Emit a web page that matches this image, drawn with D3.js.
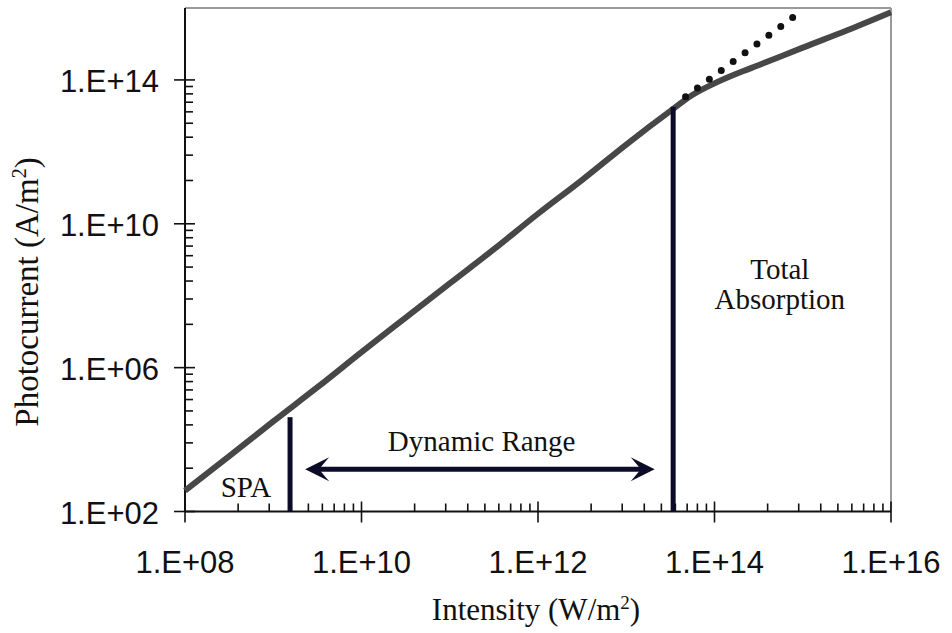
<!DOCTYPE html>
<html>
<head>
<meta charset="utf-8">
<script src="https://cdn.jsdelivr.net/npm/d3@7"></script>
<style>
  html, body { margin: 0; padding: 0; background: #fff; }
  .tick-label { font-family: "Liberation Sans", Arial, sans-serif; font-size: 31px; fill: #111; }
  .serif { font-family: "Liberation Serif", "Times New Roman", serif; fill: #111; }
</style>
</head>
<body>
<div id="visualization"></div>
<script>
const width = 952;
const height = 633;

const intensity = [1e8, 3.2e8, 1e9, 3.2e9, 1e10, 3.2e10, 1e11, 3.2e11, 1e12, 3.2e12, 1e13, 3.2e13, 5.6e13, 1e14, 1.8e14, 3.2e14, 1e15, 3.2e15, 1e16];
const photocurrent = [380, 3.5e3, 3.2e4, 2.9e5, 2.7e6, 2.5e7, 2.2e8, 2e9, 1.9e10, 1.7e11, 1.6e12, 1.4e13, 3.8e13, 8e13, 1.5e14, 2.6e14, 7.9e14, 2.4e15, 7.6e15];

// dotted extrapolation (slope 2) past saturation
const dottedIntensity = [4.7e13, 8.5e14];
const dottedCurrent = [3.4e13, 6.5e15];

// vertical markers: SPA limit and total absorption
const markerIntensity = [1.55e9, 3.4e13];
const markerTop = [4.2e4, 1.8e13];

// dynamic range arrow
const arrowIntensity = [2.3e9, 2.1e13];
const arrowCurrent = 1.5e3;

// axis ticks
const xMajor = [1e8, 1e10, 1e12, 1e14, 1e16];
const xLabels = ['1.E+08', '1.E+10', '1.E+12', '1.E+14', '1.E+16'];
const yMajor = [1e2, 1e6, 1e10, 1e14];
const yLabels = ['1.E+02', '1.E+06', '1.E+10', '1.E+14'];

// annotation text
const notes = [
    {text: 'SPA', x: 4.9e8, y: 260},
    {text: 'Dynamic Range', x: 2.3e11, y: 4.9e3},
    {text: 'Total', x: 5.5e14, y: 3.0e8},
    {text: 'Absorption', x: 5.5e14, y: 4.2e7}
];

const xScale = d3.scaleLog().domain([1e8, 1e16]).range([185, 891]);
const yScale = d3.scaleLog().domain([1e2, 1e16]).range([511.5, 8]);

const svg = d3.select('#visualization')
    .append('svg')
    .attr('width', width)
    .attr('height', height);

// frame (top and right in grey)
svg.append('line')
    .attr('x1', xScale(1e8)).attr('x2', xScale(1e16))
    .attr('y1', yScale(1e16)).attr('y2', yScale(1e16))
    .attr('stroke', '#9a9a9a').attr('stroke-width', 2);
svg.append('line')
    .attr('x1', xScale(1e16)).attr('x2', xScale(1e16))
    .attr('y1', yScale(1e16)).attr('y2', yScale(1e2))
    .attr('stroke', '#9a9a9a').attr('stroke-width', 2);

// minor ticks: Excel log axes with base 100 / 10000
const xMinor = [];
xMajor.slice(0, -1).forEach(m => d3.range(2, 10).forEach(k => xMinor.push(m * k * k)));
const yMinor = [];
yMajor.slice(0, -1).forEach(m => d3.range(2, 10).forEach(k => yMinor.push(m * k * k * k * k)));

const axisG = svg.append('g').attr('stroke', '#111').attr('stroke-width', 1.6);

axisG.append('line')
    .attr('x1', xScale(1e8)).attr('x2', xScale(1e16))
    .attr('y1', yScale(1e2)).attr('y2', yScale(1e2))
    .attr('stroke-width', 2);
axisG.append('line')
    .attr('x1', xScale(1e8)).attr('x2', xScale(1e8))
    .attr('y1', yScale(1e16)).attr('y2', yScale(1e2))
    .attr('stroke-width', 2);

axisG.selectAll('.xmajor')
    .data(xMajor)
    .enter().append('line')
    .attr('x1', d => xScale(d)).attr('x2', d => xScale(d))
    .attr('y1', yScale(1e2) - 10).attr('y2', yScale(1e2) + 11);
axisG.selectAll('.xminor')
    .data(xMinor)
    .enter().append('line')
    .attr('x1', d => xScale(d)).attr('x2', d => xScale(d))
    .attr('y1', yScale(1e2) - 8).attr('y2', yScale(1e2));
axisG.selectAll('.ymajor')
    .data(yMajor)
    .enter().append('line')
    .attr('x1', xScale(1e8) - 11).attr('x2', xScale(1e8) + 10)
    .attr('y1', d => yScale(d)).attr('y2', d => yScale(d));
axisG.selectAll('.yminor')
    .data(yMinor)
    .enter().append('line')
    .attr('x1', xScale(1e8)).attr('x2', xScale(1e8) + 8)
    .attr('y1', d => yScale(d)).attr('y2', d => yScale(d));

svg.selectAll('.xlab')
    .data(xMajor)
    .enter().append('text')
    .attr('class', 'tick-label')
    .attr('x', d => xScale(d))
    .attr('y', yScale(1e2) + 61)
    .attr('text-anchor', 'middle')
    .text((d, i) => xLabels[i]);

svg.selectAll('.ylab')
    .data(yMajor)
    .enter().append('text')
    .attr('class', 'tick-label')
    .attr('x', xScale(1e8) - 26)
    .attr('y', d => yScale(d) + 12)
    .attr('text-anchor', 'end')
    .text((d, i) => yLabels[i]);

// axis titles
const xTitle = svg.append('text')
    .attr('class', 'serif')
    .attr('x', 536)
    .attr('y', 620)
    .attr('text-anchor', 'middle')
    .attr('font-size', 31);
xTitle.append('tspan').text('Intensity (W/m');
xTitle.append('tspan').attr('font-size', 19).attr('dy', -11).text('2');
xTitle.append('tspan').attr('dy', 11).text(')');

const yTitle = svg.append('text')
    .attr('class', 'serif')
    .attr('transform', 'translate(38,292) rotate(-90)')
    .attr('text-anchor', 'middle')
    .attr('font-size', 33);
yTitle.append('tspan').text('Photocurrent (A/m');
yTitle.append('tspan').attr('font-size', 20).attr('dy', -12).text('2');
yTitle.append('tspan').attr('dy', 12).text(')');

// curve
const curve = intensity.map((d, i) => [d, photocurrent[i]]);
const line = d3.line()
    .x(d => xScale(d[0]))
    .y(d => yScale(d[1]))
    .curve(d3.curveMonotoneX);

svg.append('path')
    .datum(curve)
    .attr('d', line)
    .attr('fill', 'none')
    .attr('stroke', '#474747')
    .attr('stroke-width', 6)
    .attr('stroke-linejoin', 'round');

// dotted extrapolation
svg.append('path')
    .datum(dottedIntensity.map((d, i) => [d, dottedCurrent[i]]))
    .attr('d', d3.line().x(d => xScale(d[0])).y(d => yScale(d[1])))
    .attr('fill', 'none')
    .attr('stroke', '#111')
    .attr('stroke-width', 7)
    .attr('stroke-linecap', 'round')
    .attr('stroke-dasharray', '0,14.8');

// vertical markers
svg.selectAll('.marker')
    .data(markerIntensity)
    .enter().append('line')
    .attr('x1', d => xScale(d)).attr('x2', d => xScale(d))
    .attr('y1', (d, i) => yScale(markerTop[i]))
    .attr('y2', yScale(1e2))
    .attr('stroke', '#0c0c28')
    .attr('stroke-width', 5);

// dynamic range arrow
const ay = yScale(arrowCurrent);
const ax0 = xScale(arrowIntensity[0]);
const ax1 = xScale(arrowIntensity[1]);
svg.append('line')
    .attr('x1', ax0 + 10).attr('x2', ax1 - 10)
    .attr('y1', ay).attr('y2', ay)
    .attr('stroke', '#0c0c28')
    .attr('stroke-width', 5);
const head = 'M0,0 L24,-12 Q17,-4 14,0 Q17,4 24,12 Z';
svg.append('path')
    .attr('d', head)
    .attr('transform', `translate(${ax0},${ay})`)
    .attr('fill', '#0c0c28');
svg.append('path')
    .attr('d', head)
    .attr('transform', `translate(${ax1},${ay}) scale(-1,1)`)
    .attr('fill', '#0c0c28');

// annotations
svg.selectAll('.note')
    .data(notes)
    .enter().append('text')
    .attr('class', 'serif')
    .attr('x', d => xScale(d.x))
    .attr('y', d => yScale(d.y))
    .attr('text-anchor', 'middle')
    .attr('font-size', 29)
    .text(d => d.text);
</script>
</body>
</html>
